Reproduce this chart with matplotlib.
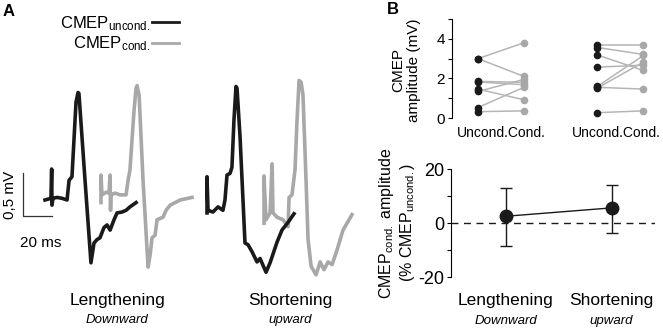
import matplotlib
matplotlib.use('Agg')
import matplotlib.pyplot as plt
from matplotlib.lines import Line2D

plt.rcParams['font.family'] = 'Liberation Sans'
plt.rcParams['mathtext.fontset'] = 'custom'
plt.rcParams['mathtext.rm'] = 'Liberation Sans'
plt.rcParams['mathtext.it'] = 'Liberation Sans:italic'

# ---- Dados: traçados CMEP (ms, mV) ----
len_unc_t = [0, 2.1, 4.1, 4.6, 4.8, 5.5, 8.3, 11.7, 15.2, 16.6, 18.6, 21.4, 22.8, 23.4, 27.6,
             31.7, 33.8, 35.9, 37.9, 40.7, 42.8, 44.9, 47.6, 49.7, 53.1, 55.9, 58.6, 62.8]
len_unc_v = [0, 0.01, 0.02, 0.36, -0.06, 0.02, 0.03, 0.02, 0, 0.23, 0.27, 1.14, 1.25, 1.24, 0.23,
             -0.73, -0.50, -0.46, -0.44, -0.32, -0.29, -0.35, -0.23, -0.15, -0.14, -0.12, -0.08, -0.03]
len_cond_t = [38.6, 38.6, 39.3, 42.1, 44.1, 44.9, 45.2, 45.5, 48.3, 51.7, 55.9, 57.3, 58.6, 61.4,
              62.8, 63.5, 64.9, 67.6, 71.1, 72.5, 73.8, 75.9, 77.3, 81.4, 83.5, 86.3, 93.2, 101.4]
len_cond_v = [-0.03, 0.29, 0.06, 0.09, 0.08, 0.29, -0.12, 0.06, 0.08, 0.06, 0.06, 0.23, 0.35, 1.04,
              1.30, 1.33, 1.22, 0.23, -0.78, -0.64, -0.44, -0.41, -0.23, -0.20, -0.12, -0.06, 0, 0.03]
sh_unc_t = [0, 0, 0.7, 4.1, 7.6, 11.0, 12.4, 13.8, 15.9, 17.2, 18.6, 20.0, 20.7, 22.8, 26.2,
            28.3, 31.0, 34.5, 36.6, 40.7, 43.5, 48.3, 51.7, 55.9, 60.0]
sh_unc_v = [-0.15, 0.27, -0.12, -0.14, -0.08, -0.12, 0, 0.29, 0.31, 0.38, 0.93, 1.32, 1.30, 0.73, -0.50,
            -0.52, -0.60, -0.72, -0.68, -0.84, -0.73, -0.49, -0.35, -0.26, -0.16]
sh_cond_t = [39.3, 39.3, 40.7, 43.5, 44.9, 45.5, 48.3, 52.4, 55.9, 56.6, 58.6, 60.7, 62.1, 63.5,
             64.9, 66.2, 68.3, 69.7, 71.8, 75.2, 78.0, 80.7, 83.5, 86.3, 89.7, 93.8, 100.0]
sh_cond_v = [-0.27, 0.28, -0.23, -0.15, 0.42, -0.15, -0.20, -0.23, -0.31, 0.03, 0.06, 0.35, 0.93, 1.39,
             1.37, 1.22, 0.23, -0.46, -0.77, -0.87, -0.72, -0.81, -0.72, -0.75, -0.58, -0.35, -0.17]

# ---- Dados: amplitudes individuais (mV) ----
len_uncond = [3.0, 3.0, 1.85, 1.82, 1.46, 1.34, 0.53, 0.32]
len_cond = [3.8, 2.1, 1.8, 1.68, 0.92, 1.95, 1.55, 0.36]
sh_uncond = [3.69, 3.56, 3.18, 2.57, 1.60, 1.55, 1.52, 0.27]
sh_cond = [3.69, 3.21, 2.40, 2.67, 3.16, 1.46, 2.82, 0.36]

# ---- Dados: média e erro (% CMEP uncond.) ----
conditions = ['Lengthening', 'Shortening']
directions = ['Downward', 'upward']
mean_pct = [2.5, 5.6]
err_low = [-8.5, -3.7]
err_high = [13.0, 14.0]

BLACK = '#1a1a1a'
GRAY = '#a8a8a8'
W, H = 663, 329

fig = plt.figure(figsize=(W / 100, H / 100), dpi=100)


def px_axes(x0, y0, x1, y1):
    return fig.add_axes([x0 / W, 1 - y1 / H, (x1 - x0) / W, (y1 - y0) / H])


# ---- Painel A: traçados ----
ms_px = 20 / 29
mv_px = 0.5 / 43
axA = px_axes(0, 60, 370, 290)
axA.set_xlim((0 - 45) * ms_px, (370 - 45) * ms_px)
axA.set_ylim((200 - 290) * mv_px, (200 - 60) * mv_px)
axA.axis('off')
sh_shift = (207 - 45) * ms_px
axA.plot(len_cond_t, len_cond_v, color=GRAY, lw=2.6, solid_joinstyle='round')
axA.plot(len_unc_t, len_unc_v, color=BLACK, lw=2.6, solid_joinstyle='round')
axA.plot([t + sh_shift for t in sh_cond_t], sh_cond_v, color=GRAY, lw=2.6, solid_joinstyle='round')
axA.plot([t + sh_shift for t in sh_unc_t], sh_unc_v, color=BLACK, lw=2.6, solid_joinstyle='round')

# barra de escala
t0, v0 = (23 - 45) * ms_px, (200 - 216) * mv_px
axA.plot([t0, t0, t0 + 20], [v0 + 0.5, v0, v0], color='#333333', lw=0.9)
axA.text(t0 - 13 * ms_px, v0 + 0.25, '0,5 mV', rotation=90, ha='center', va='center', fontsize=11)
axA.text(t0 + 12, v0 - 27 * mv_px, '20 ms', ha='center', va='center', fontsize=11)

handles = [Line2D([], [], color=BLACK, lw=2), Line2D([], [], color=GRAY, lw=2)]
axA.legend(handles, [r'CMEP$_{\mathrm{uncond.}}$', r'CMEP$_{\mathrm{cond.}}$'],
           markerfirst=False, frameon=False, loc='upper left',
           bbox_to_anchor=(60 / W, 1 - 14 / H), bbox_transform=fig.transFigure,
           fontsize=12, handlelength=1.6, handletextpad=0.1, labelspacing=0.1,
           borderpad=0, borderaxespad=0)

for xc, cond, dirn in zip([117, 290], conditions, directions):
    fig.text(xc / W, 1 - 301 / H, cond, ha='center', va='center', fontsize=12.5)
    fig.text(xc / W, 1 - 320 / H, dirn, ha='center', va='center', fontsize=9.5, style='italic')

# ---- Painel B (topo): amplitudes ----
axB = px_axes(452, 19, 660, 118)
for xs, unc, cnd in [((0, 1), len_uncond, len_cond), ((2.6, 3.6), sh_uncond, sh_cond)]:
    for u, c in zip(unc, cnd):
        axB.plot(xs, [u, c], color='#b5b5b5', lw=1.1, zorder=1)
    axB.plot([xs[0]] * len(unc), unc, 'o', color=BLACK, ms=4.5, zorder=3, clip_on=False)
    axB.plot([xs[1]] * len(cnd), cnd, 'o', color=GRAY, ms=4.5, zorder=3, clip_on=False)
axB.set_xlim(-0.565, 3.96)
axB.set_ylim(0, 5)
axB.set_yticks([0, 1, 2, 3, 4, 5], ['0', '', '2', '', '4', ''])
axB.set_xticks([0.5, 3.02], ['Uncond.Cond.', 'Uncond.Cond.'])
axB.tick_params(axis='y', length=3, width=0.8, labelsize=11, pad=2)
axB.tick_params(axis='x', length=0, labelsize=10, pad=6)
for s in ['top', 'right', 'bottom']:
    axB.spines[s].set_visible(False)
axB.spines['left'].set_linewidth(0.8)
fig.text(406 / W, 1 - 70 / H, 'CMEP\namplitude (mV)', rotation=90, ha='center', va='center',
         fontsize=11, multialignment='center')

# ---- Painel B (baixo): % CMEP uncond. ----
axC = px_axes(451, 169, 655, 277)
yerr = [[m - lo for m, lo in zip(mean_pct, err_low)], [hi - m for m, hi in zip(mean_pct, err_high)]]
axC.axhline(0, color=BLACK, lw=1, ls=(0, (5, 4)))
axC.errorbar(range(len(mean_pct)), mean_pct, yerr=yerr, color=BLACK, lw=1, elinewidth=1,
             capsize=4, capthick=1, marker='o', ms=9, zorder=3)
axC.set_xlim(-0.52, 1.41)
axC.set_ylim(-20, 20)
axC.set_yticks([-20, -10, 0, 10, 20], ['-20', '', '0', '', '20'])
axC.set_xticks([])
axC.tick_params(axis='y', length=3, width=0.8, labelsize=13, pad=2)
for s in ['top', 'right', 'bottom']:
    axC.spines[s].set_visible(False)
axC.spines['left'].set_linewidth(0.8)
for i, (cond, dirn) in enumerate(zip(conditions, directions)):
    axC.text(i, (277 - 301) / 108, cond, transform=axC.get_xaxis_transform(),
             ha='center', va='center', fontsize=12.5)
    axC.text(i, (277 - 321) / 108, dirn, transform=axC.get_xaxis_transform(),
             ha='center', va='center', fontsize=9.5, style='italic')
fig.text(397 / W, 1 - 223 / H, 'CMEP$_{\\mathrm{cond.}}$ amplitude\n(% CMEP$_{\\mathrm{uncond.}}$)',
         rotation=90, ha='center', va='center', fontsize=11.5, multialignment='center')

fig.text(3 / W, 1 - 11 / H, 'A', fontsize=12, fontweight='bold', va='center')
fig.text(387 / W, 1 - 9 / H, 'B', fontsize=12, fontweight='bold', va='center')

fig.savefig('out.png', dpi=100)
